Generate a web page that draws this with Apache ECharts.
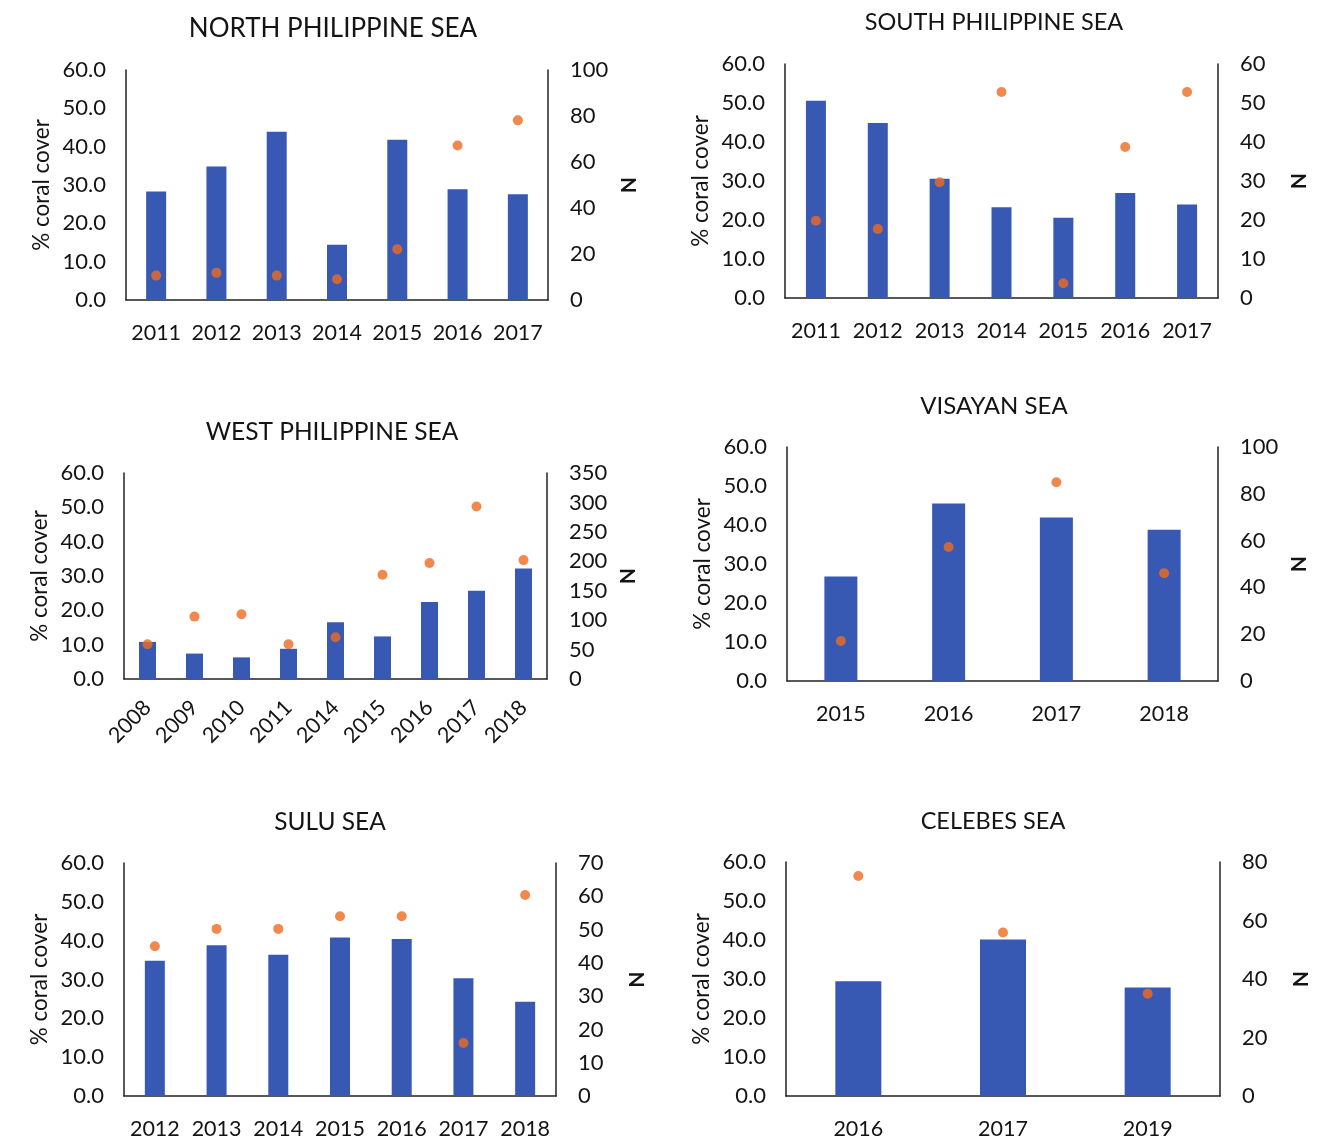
<!DOCTYPE html>
<html><head><meta charset="utf-8">
<script src="https://cdn.jsdelivr.net/npm/echarts@6/dist/echarts.min.js"></script>
<style>html,body{margin:0;padding:0;background:#fff}#c{width:1322px;height:1142px}</style>
</head><body><div id="c"></div>
<script>
// ---- data ----
const northYears = ['2011','2012','2013','2014','2015','2016','2017'];
const northCover = [28.3, 34.8, 43.9, 14.4, 41.8, 28.9, 27.6];
const northN = [10.6, 11.8, 10.6, 9.0, 22.1, 67.2, 78.1];

const southYears = ['2011','2012','2013','2014','2015','2016','2017'];
const southCover = [50.6, 44.9, 30.6, 23.3, 20.6, 26.9, 24.0];
const southN = [19.8, 17.7, 29.7, 52.8, 3.8, 38.7, 52.8];

const westYears = ['2008','2009','2010','2011','2014','2015','2016','2017','2018'];
const westCover = [10.8, 7.4, 6.3, 8.8, 16.5, 12.4, 22.4, 25.7, 32.2];
const westN = [59, 106, 110, 59, 71, 177, 197, 293, 202];

const visayanYears = ['2015','2016','2017','2018'];
const visayanCover = [26.8, 45.5, 41.9, 38.8];
const visayanN = [17.1, 57.3, 84.9, 46.1];

const suluYears = ['2012','2013','2014','2015','2016','2017','2018'];
const suluCover = [34.8, 38.8, 36.4, 40.8, 40.4, 30.3, 24.3];
const suluN = [45.0, 50.2, 50.2, 54.0, 54.0, 15.9, 60.4];

const celebesYears = ['2016','2017','2019'];
const celebesCover = [29.4, 40.1, 27.8];
const celebesN = [75.2, 55.9, 35.0];

const titles = ['NORTH PHILIPPINE SEA','SOUTH PHILIPPINE SEA','WEST PHILIPPINE SEA','VISAYAN SEA','SULU SEA','CELEBES SEA'];
const rightMax = [100, 60, 350, 100, 70, 80];
const rightInterval = [20, 10, 50, 20, 10, 20];

// ---- layout ----
const panels = [
  {years: northYears, cover: northCover, n: northN, grid:{left:126, top:70, width:422, height:230}, title:{x:333,y:16,size:26}, bw:20, rot:0},
  {years: southYears, cover: southCover, n: southN, grid:{left:785, top:64, width:433, height:234}, title:{x:994,y:10,size:23.5}, bw:20, rot:0},
  {years: westYears, cover: westCover, n: westN, grid:{left:124, top:473, width:423, height:206}, title:{x:332,y:420,size:24.5}, bw:17, rot:45},
  {years: visayanYears, cover: visayanCover, n: visayanN, grid:{left:787, top:447, width:431, height:234}, title:{x:994,y:394,size:24}, bw:33, rot:0},
  {years: suluYears, cover: suluCover, n: suluN, grid:{left:124, top:863, width:432, height:233}, title:{x:330,y:810,size:24.5}, bw:20, rot:0},
  {years: celebesYears, cover: celebesCover, n: celebesN, grid:{left:786, top:862, width:434, height:234}, title:{x:993,y:809,size:23.5}, bw:46, rot:0}
];

const FONT = 'Lato, "Open Sans", sans-serif';
const TXT = '#141414';
const BLUE = '#3859B3';
const ORANGE = '#EE6B22';

const option = {
  animation: false,
  backgroundColor: '#fff',
  textStyle: {fontFamily: FONT},
  title: [], grid: [], xAxis: [], yAxis: [], series: []
};

panels.forEach((p, i) => {
  option.title.push({
    text: titles[i], left: p.title.x, top: p.title.y, textAlign: 'center', padding: 0,
    textStyle: {fontFamily: FONT, fontSize: p.title.size, fontWeight: 'normal', color: TXT}
  });
  option.grid.push({left: p.grid.left, top: p.grid.top, width: p.grid.width, height: p.grid.height, containLabel: false});
  option.xAxis.push({
    type: 'category', gridIndex: i, data: p.years, boundaryGap: true,
    axisLine: {show: true, lineStyle: {color: '#222', width: 1.5}},
    axisTick: {show: false},
    axisLabel: {color: TXT, fontSize: 21.5, fontFamily: FONT, margin: p.rot ? 25 : 22, rotate: p.rot, interval: 0}
  });
  option.yAxis.push({
    type: 'value', gridIndex: i, min: 0, max: 60, interval: 10, position: 'left',
    name: '% coral cover', nameLocation: 'middle', nameRotate: 90, nameGap: 73,
    nameTextStyle: {color: TXT, fontSize: 22.5, fontFamily: FONT},
    axisLine: {show: true, lineStyle: {color: '#222', width: 1.5}},
    axisTick: {show: false}, splitLine: {show: false},
    axisLabel: {color: TXT, fontSize: 22, fontFamily: FONT, margin: 20, formatter: v => v.toFixed(1)}
  });
  option.yAxis.push({
    type: 'value', gridIndex: i, min: 0, max: rightMax[i], interval: rightInterval[i], position: 'right',
    name: 'N', nameLocation: 'middle', nameRotate: -90, nameGap: 69,
    nameTextStyle: {color: TXT, fontSize: 21, fontWeight: 'bold', fontFamily: FONT},
    axisLine: {show: true, lineStyle: {color: '#222', width: 1.5}},
    axisTick: {show: false}, splitLine: {show: false},
    axisLabel: {color: TXT, fontSize: 22, fontFamily: FONT, margin: 22}
  });
  option.series.push({
    type: 'bar', xAxisIndex: i, yAxisIndex: 2 * i, data: p.cover, barWidth: p.bw,
    itemStyle: {color: BLUE}
  });
  option.series.push({
    type: 'scatter', xAxisIndex: i, yAxisIndex: 2 * i + 1, data: p.n, symbol: 'circle', symbolSize: 10,
    itemStyle: {color: ORANGE}
  });
});

const chart = echarts.init(document.getElementById('c'), null, {renderer: 'canvas'});
chart.setOption(option);
</script>
</body></html>
